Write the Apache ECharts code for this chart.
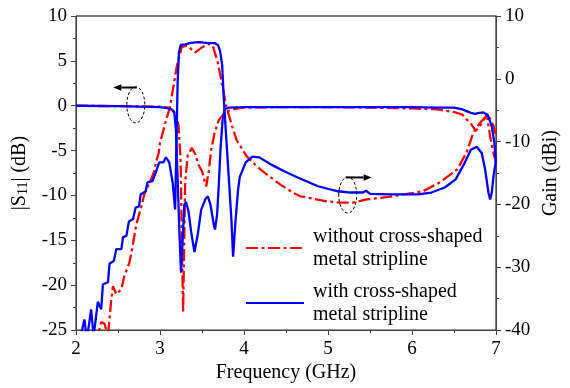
<!DOCTYPE html>
<html><head><meta charset="utf-8">
<script src="https://cdn.jsdelivr.net/npm/echarts@6/dist/echarts.min.js"></script>
<style>html,body{margin:0;padding:0;background:#fff}#c{width:570px;height:388px}</style>
</head><body><div id="c"></div>
<script>
// ---------- data (frequency in GHz) ----------
const freqS11With = [2.0,2.5,3.0,3.1,3.14,3.17,3.19,3.21,3.23,3.25,3.27,3.29,3.31,3.34,3.37,3.41,3.45,3.49,3.54,3.57,3.60,3.64,3.655,3.68,3.70,3.72,3.745,3.77,3.82,4.0,4.5,5.0,5.5,6.0,6.3,6.5,6.6,6.7,6.75,6.8,6.85,6.9,6.95,6.98,7.0];
const s11With     = [0,-0.05,-0.15,-0.3,-0.4,-0.7,-2.7,-8.2,-13.8,-18.6,-14.9,-11,-10.7,-11.8,-14,-16.3,-14.3,-11.6,-10.4,-10.1,-11,-13.2,-13.8,-12.1,-8.8,-4.9,-1.6,-0.4,-0.2,-0.15,-0.15,-0.15,-0.15,-0.15,-0.2,-0.2,-0.4,-0.8,-0.9,-0.8,-0.75,-1.0,-2.3,-4.1,-6.3];

const freqS11Without = [2.0,2.5,3.0,3.1,3.15,3.2,3.22,3.245,3.26,3.275,3.29,3.30,3.33,3.38,3.42,3.46,3.50,3.55,3.58,3.61,3.65,3.70,3.77,3.85,4.0,4.5,5.0,5.5,6.0,6.3,6.5,6.6,6.7,6.76,6.82,6.89,6.93,6.97,7.0];
const s11Without     = [0,-0.05,-0.1,-0.2,-0.55,-1.2,-2.2,-6,-15,-23,-14,-8.5,-5.5,-4.7,-5.4,-6.6,-7.3,-9.0,-7.3,-4.9,-3,-1.6,-0.8,-0.4,-0.2,-0.15,-0.15,-0.2,-0.3,-0.4,-0.7,-1.0,-2.0,-2.8,-2.1,-1.0,-3.4,-5.3,-6.3];

const freqGainWith = [2.0,2.06,2.08,2.10,2.13,2.18,2.21,2.26,2.30,2.32,2.38,2.40,2.45,2.48,2.54,2.56,2.60,2.63,2.68,2.71,2.75,2.77,2.83,2.85,2.91,2.95,2.99,3.04,3.07,3.11,3.15,3.18,3.195,3.21,3.225,3.246,3.30,3.357,3.42,3.476,3.52,3.571,3.655,3.69,3.715,3.74,3.76,3.79,3.82,3.85,3.87,3.90,3.93,3.95,4.02,4.10,4.18,4.33,4.49,4.64,4.88,5.12,5.27,5.42,5.45,5.50,5.75,6.07,6.23,6.39,6.52,6.63,6.70,6.77,6.83,6.87,6.91,6.93,6.95,6.97,7.0];
const gainWith     = [-48,-41,-39.5,-38.3,-41.5,-36.7,-41,-35.5,-36.7,-32.7,-32.4,-29.4,-29.0,-27.1,-27.1,-25.2,-25.0,-22.7,-22.3,-20.5,-20.3,-18.4,-17.9,-16.5,-16.3,-14.9,-13.3,-13.3,-12.5,-13.3,-16.5,-20.8,-11,-0.5,4.2,5.4,5.5,5.67,5.8,5.83,5.75,5.67,5.67,5.4,4.5,2.2,-3.3,-9.7,-16,-22.4,-28.3,-22.4,-17.6,-15.6,-13.3,-12.4,-12.5,-13.7,-14.8,-15.7,-17.1,-17.9,-18.1,-18.1,-17.8,-18.3,-18.4,-18.4,-18.1,-17.3,-16.0,-13.3,-11.3,-10.8,-11.8,-14.4,-18.1,-19.2,-18.1,-15.5,-12.9];

const freqGainWithout = [2.2,2.277,2.30,2.34,2.38,2.42,2.44,2.48,2.50,2.54,2.575,2.635,2.675,2.714,2.774,2.813,2.854,2.893,2.932,2.952,2.985,3.0,3.06,3.12,3.2,3.26,3.32,3.42,3.50,3.58,3.63,3.69,3.74,3.79,3.86,3.91,4.03,4.15,4.27,4.43,4.58,4.67,4.99,5.14,5.30,5.46,5.77,6.13,6.33,6.54,6.65,6.73,6.81,6.88,6.93,6.97,7.0];
const gainWithout     = [-46,-40,-38.7,-39,-41,-35.1,-33,-34.3,-34.6,-33.5,-31.4,-29.3,-26.6,-23.4,-20.5,-18.4,-17.1,-16.0,-14.7,-13.3,-11.8,-10.2,-7.2,-4.4,2.0,5.1,5.3,4.2,5.0,5.6,5.2,2.5,-1,-4.4,-7.6,-9.7,-12.3,-13.9,-15.2,-16.8,-18.1,-18.7,-19.5,-19.7,-19.7,-19.2,-18.7,-17.9,-16.5,-14.4,-11.7,-8.6,-7.0,-6.0,-6.3,-7.5,-9.0];

const xTicks = {min: 2, max: 7, step: 1};
const leftTicks = {min: -25, max: 10, step: 5};
const rightTicks = {min: -40, max: 10, step: 10};

const nameWithout = 'without cross-shaped\nmetal stripline';
const nameWith = 'with cross-shaped\nmetal stripline';

// annotation anchors (data coordinates)
const annoLeft  = {cx: 2.712, cy: 0.1, arrowY: 2.03, arrowFrom: 2.722, arrowTo: 2.444, axis: 0};
const annoRight = {cx: 5.235, cy: -18.5, arrowY: -15.7, arrowFrom: 5.21, arrowTo: 5.52, axis: 1};

// ---------- chart ----------
const FONT = '"Liberation Serif", "Times New Roman", serif';
const RED = '#ff0000', BLUE = '#0000ff';
const dashDot = [12, 3.5, 3, 3.5];
const pairs = (xs, ys) => xs.map((x, i) => [x, ys[i]]);

const axisCommon = {
  axisLine: {show: true, onZero: false, lineStyle: {color: '#444', width: 1}},
  axisTick: {show: true, inside: false, length: 5, lineStyle: {color: '#444'}},
  minorTick: {show: true, splitNumber: 2, length: 3, lineStyle: {color: '#444'}},
  splitLine: {show: false},
  minorSplitLine: {show: false},
  nameLocation: 'middle',
  nameTextStyle: {fontFamily: FONT, fontSize: 20, color: '#000'}
};

const legendCommon = {
  left: 245, orient: 'vertical', padding: 0,
  itemWidth: 58, itemHeight: 4, selectedMode: false,
  itemStyle: {opacity: 0, borderWidth: 0},
  textStyle: {fontFamily: FONT, fontSize: 20, color: '#000', lineHeight: 23, padding: [2, 0, 0, 4]}
};

const chart = echarts.init(document.getElementById('c'), null, {renderer: 'canvas'});
const option = {
  animation: false,
  backgroundColor: '#fff',
  grid: {left: 76, right: 74, top: 16, bottom: 57, show: true, borderColor: '#000', borderWidth: 1, backgroundColor: 'transparent'},
  xAxis: Object.assign({}, axisCommon, {
    type: 'value', min: xTicks.min, max: xTicks.max, interval: xTicks.step,
    axisLabel: {fontFamily: FONT, fontSize: 19, color: '#000', margin: 9},
    name: 'Frequency (GHz)', nameGap: 30
  }),
  yAxis: [
    Object.assign({}, axisCommon, {
      type: 'value', position: 'left', min: leftTicks.min, max: leftTicks.max, interval: leftTicks.step,
      axisLabel: {fontFamily: FONT, fontSize: 19, color: '#000', margin: 9},
      name: '|S{sub|11}| (dB)', nameGap: 44,
      nameTextStyle: {fontFamily: FONT, fontSize: 20, color: '#000',
        rich: {sub: {fontFamily: FONT, fontSize: 14, color: '#000', padding: [9, 0, 0, 0]}}}
    }),
    Object.assign({}, axisCommon, {
      type: 'value', position: 'right', min: rightTicks.min, max: rightTicks.max, interval: rightTicks.step,
      axisLabel: {fontFamily: FONT, fontSize: 19, color: '#000', margin: 9},
      name: 'Gain (dBi)', nameGap: 45
    })
  ],
  legend: [
    Object.assign({}, legendCommon, {data: [nameWithout], top: 224}),
    Object.assign({}, legendCommon, {data: [nameWith], top: 279})
  ],
  series: [
    {name: nameWithout, type: 'line', yAxisIndex: 0, data: pairs(freqS11Without, s11Without),
     symbol: 'none', showSymbol: false, color: RED, lineStyle: {color: RED, width: 2.3, type: dashDot}},
    {name: nameWithout, type: 'line', yAxisIndex: 1, data: pairs(freqGainWithout, gainWithout),
     symbol: 'none', showSymbol: false, color: RED, lineStyle: {color: RED, width: 2.3, type: dashDot}},
    {name: nameWith, type: 'line', yAxisIndex: 0, data: pairs(freqS11With, s11With),
     symbol: 'none', showSymbol: false, color: BLUE, lineStyle: {color: BLUE, width: 2.3, type: 'solid'}},
    {name: nameWith, type: 'line', yAxisIndex: 1, data: pairs(freqGainWith, gainWith),
     symbol: 'none', showSymbol: false, color: BLUE, lineStyle: {color: BLUE, width: 2.3, type: 'solid'}}
  ]
};
chart.setOption(option);

// ---------- annotations (ellipse + arrow) ----------
function annotation(a, dir) {
  const px = (x, y) => chart.convertToPixel({xAxisIndex: 0, yAxisIndex: a.axis}, [x, y]);
  const c = px(a.cx, a.cy);
  const s = px(a.arrowFrom, a.arrowY);
  const e = px(a.arrowTo, a.arrowY);
  const head = 8, half = 3.2;
  const baseX = e[0] - dir * head;
  return [
    {type: 'ellipse', shape: {cx: c[0], cy: c[1], rx: 9, ry: 18}, z: 100,
     style: {fill: 'none', stroke: '#000', lineWidth: 1, lineDash: [3, 2]}},
    {type: 'line', shape: {x1: s[0], y1: s[1], x2: baseX, y2: e[1]}, z: 100,
     style: {stroke: '#000', lineWidth: 2}},
    {type: 'polygon', shape: {points: [[e[0], e[1]], [baseX, e[1] - half], [baseX, e[1] + half]]}, z: 100,
     style: {fill: '#000'}}
  ];
}
chart.setOption({graphic: annotation(annoLeft, -1).concat(annotation(annoRight, 1))});
</script></body></html>
